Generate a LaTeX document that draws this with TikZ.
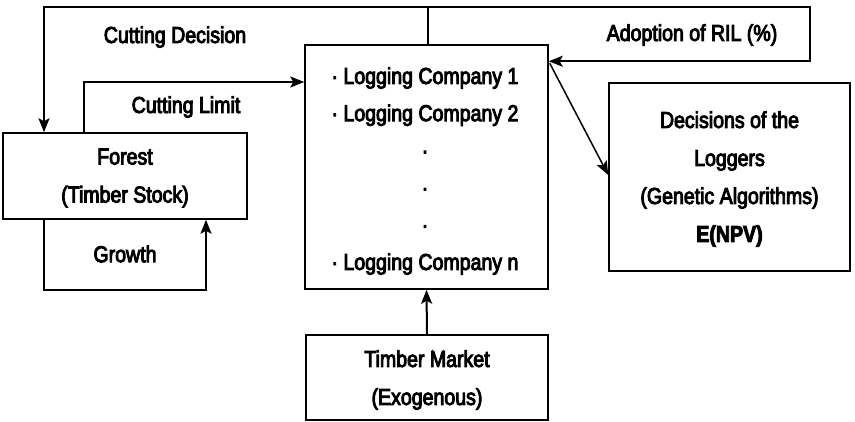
\documentclass[tikz,border=0pt]{standalone}
\usepackage{fontspec}
\setmainfont{Liberation Sans}[FakeStretch=0.85,FakeBold=4]
\usetikzlibrary{arrows.meta,calc}
\begin{document}
\begin{tikzpicture}[x=1pt,y=-1pt,
  box/.style={draw,line width=1.5pt,inner sep=0pt},
  txt/.style={font=\fontsize{23}{38}\selectfont,align=center,inner sep=0pt},
  conn/.style={line width=2pt},
  arr/.style={line width=2pt,-{Stealth[length=14pt,width=11pt,inset=3pt]}}]
\useasboundingbox (0,0) rectangle (855,421);
% boxes
\node[box,minimum width=244pt,minimum height=86pt] (forest) at (125,176) {};
\node[box,minimum width=243pt,minimum height=244pt] (comp) at (426.5,167) {};
\node[box,minimum width=241pt,minimum height=188pt] (dec) at (729.5,177) {};
\node[box,minimum width=242pt,minimum height=85pt] (market) at (427,377.5) {};
% box texts
\node[txt] (forestt) at (125,178) {Forest\\(Timber Stock)};
\node[txt,font=\fontsize{23}{37.2}\selectfont] (compt) at (425,171) {· Logging Company 1\\· Logging Company 2\\·\\·\\·\\· Logging Company n};
\node[txt] (dect) at (729.5,179) {Decisions of the\\Loggers\\(Genetic Algorithms)\\\textbf{E(NPV)}};
\node[txt] (markett) at (427,380) {Timber Market\\(Exogenous)};
% labels
\node[txt] (lcd) at (175,37) {Cutting Decision};
\node[txt] (lcl) at (186,107) {Cutting Limit};
\node[txt] (lril) at (692,35) {Adoption of RIL (\%)};
\node[txt] (lgr) at (125,254) {Growth};
% coordinates
\coordinate (tl) at (44,7);
\coordinate (tr) at (810,7);
\coordinate (ctop) at (428,7);
\coordinate (cl) at (84,82);
\coordinate (gl) at (44,290);
\coordinate (gr) at (206,290);
% connectors
\draw[conn] (comp.north -| ctop) -- (ctop);
\draw[arr] (ctop) -- (tl) -- (tl |- forest.north);
\draw[arr] (ctop) -- (tr) |- ($(comp.north east)+(0,17)$);
\draw[arr] (cl |- forest.north) -- (cl) -- (cl -| comp.west);
\draw[arr] (gl |- forest.south) -- (gl) -- (gr) -- (gr |- forest.south);
\draw[arr] (market.north) -- (comp.south);
\draw[arr,line width=1.5pt] ($(comp.north east)+(1,19)$) -- ($(dec.west)+(0,-2)$);
\end{tikzpicture}
\end{document}
